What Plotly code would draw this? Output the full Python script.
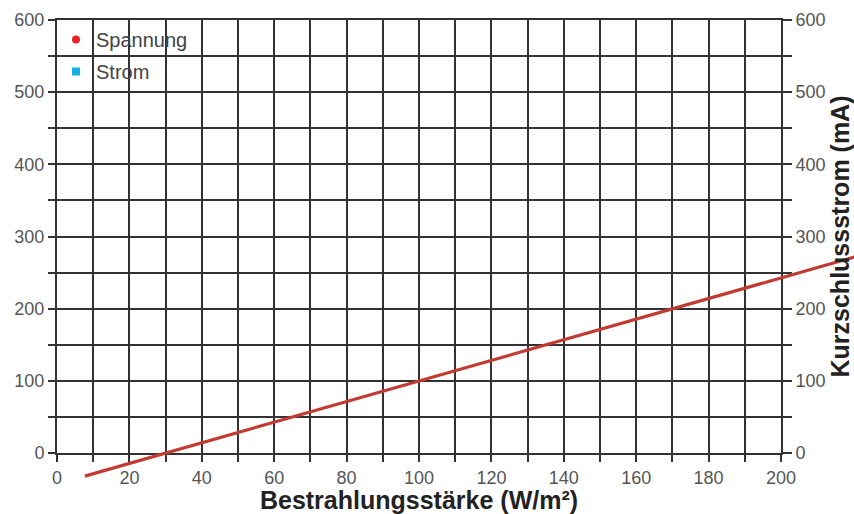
import plotly.graph_objects as go

# ---- data ----
x_title = "Bestrahlungsstärke (W/m²)"
y2_title = "Kurzschlussstrom (mA)"
x_range = [0, 200]
y_range = [0, 600]
x_ticks = [0, 20, 40, 60, 80, 100, 120, 140, 160, 180, 200]
y_ticks = [0, 100, 200, 300, 400, 500, 600]
legend_names = ["Spannung", "Strom"]
# fitted line
line_irradiance = [7.7, 222]
line_current = [-32, 274]

# ---- layout geometry ----
W, H = 854, 514
xd = [57 / W, 781 / W]
yd = [(H - 453) / H, (H - 20) / H]

# overlay subplot spanning the whole page with the same scale
sx = (x_range[1] - x_range[0]) / (xd[1] - xd[0])
sy = (y_range[1] - y_range[0]) / (yd[1] - yd[0])
x3_range = [x_range[0] - xd[0] * sx, x_range[1] + (1 - xd[1]) * sx]
y3_range = [y_range[0] - yd[0] * sy, y_range[1] + (1 - yd[1]) * sy]

GRID = "#333333"
TICKC = "#555555"
font_family = "Liberation Sans, Arial, sans-serif"

fig = go.Figure()

# legend-only traces
fig.add_trace(go.Scatter(x=[None], y=[None], mode="markers", name=legend_names[0],
                         marker=dict(symbol="circle", color="#e8202a", size=8),
                         legendgroup="a", xaxis="x", yaxis="y"))
fig.add_trace(go.Scatter(x=[None], y=[None], mode="markers", name=legend_names[1],
                         marker=dict(symbol="square", color="#14aee6", size=8),
                         legendgroup="b", xaxis="x", yaxis="y"))
# invisible trace for right axis
fig.add_trace(go.Scatter(x=[None], y=[None], showlegend=False, xaxis="x", yaxis="y2"))

# the red line on a full-page overlay subplot (not clipped to grid area)
fig.add_trace(go.Scatter(x=line_irradiance, y=line_current, mode="lines",
                         line=dict(color="#c23b33", width=3.2),
                         showlegend=False, xaxis="x3", yaxis="y3", hoverinfo="skip"))

axis_common = dict(showgrid=True, gridcolor=GRID, gridwidth=2, showline=True,
                   linecolor=GRID, linewidth=2, zeroline=False, automargin=False,
                   ticks="outside", tickcolor=GRID, tickwidth=2, ticklen=7,
                   tickfont=dict(size=18, color=TICKC, family=font_family))

fig.update_layout(
    width=W, height=H,
    margin=dict(l=0, r=0, t=0, b=0),
    paper_bgcolor="white",
    plot_bgcolor="rgba(0,0,0,0)",
    font=dict(family=font_family),
    xaxis=dict(domain=xd, range=x_range, tickvals=x_ticks, anchor="y", mirror=True,
               minor=dict(dtick=10, tick0=0, showgrid=True, gridcolor=GRID, gridwidth=2,
                          ticks="outside", ticklen=7, tickcolor=GRID, tickwidth=2),
               title=dict(text="<b>" + x_title + "</b>", font=dict(size=25, color="#222222"),
                          standoff=0),
               **axis_common),
    yaxis=dict(domain=yd, range=y_range, tickvals=y_ticks, anchor="x", mirror=True,
               minor=dict(dtick=50, tick0=0, showgrid=True, gridcolor=GRID, gridwidth=2,
                          ticks="outside", ticklen=7, tickcolor=GRID, tickwidth=2),
               **axis_common),
    yaxis2=dict(overlaying="y", side="right", range=y_range, tickvals=y_ticks, anchor="x",
                showgrid=False, showline=True, linecolor=GRID, linewidth=2, zeroline=False,
                automargin=False,
                ticks="outside", tickcolor=GRID, tickwidth=2, ticklen=9,
                minor=dict(dtick=50, tick0=0, ticks="outside", ticklen=9, tickcolor=GRID, tickwidth=2),
                tickfont=dict(size=18, color=TICKC, family=font_family),
                title=dict(text="<b>" + y2_title + "</b>", font=dict(size=25, color="#222222"),
                           standoff=1)),
    xaxis3=dict(domain=[0, 1], range=x3_range, anchor="y3", visible=False, fixedrange=True),
    yaxis3=dict(domain=[0, 1], range=y3_range, anchor="x3", visible=False, fixedrange=True),
    legend=dict(x=56 / W, y=1 - 20 / H, xanchor="left", yanchor="top",
                bgcolor="rgba(0,0,0,0)", tracegroupgap=3,
                font=dict(size=20, color="#444444", family=font_family)),
)

fig.write_html("out.html", config={"displayModeBar": False},
               post_script="document.body.style.margin='0';document.body.style.overflow='hidden';")
